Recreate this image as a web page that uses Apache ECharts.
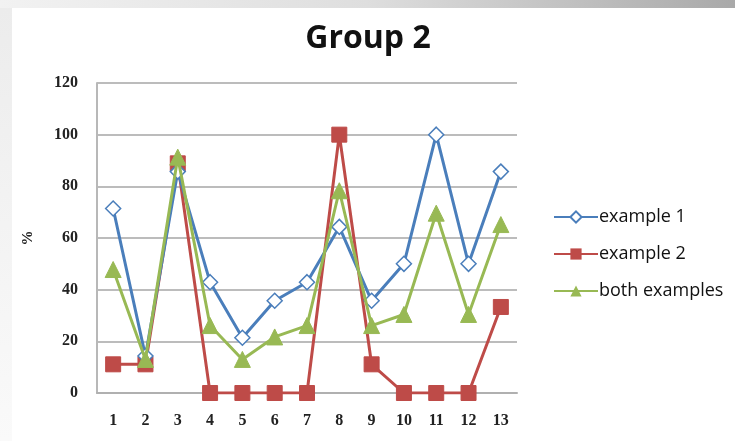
<!DOCTYPE html>
<html>
<head>
<meta charset="utf-8">
<script src="https://cdn.jsdelivr.net/npm/echarts@6/dist/echarts.min.js"></script>
<style>
html,body{margin:0;padding:0;background:#fff;}
#chart{width:735px;height:441px;}
</style>
</head>
<body>
<div id="chart"></div>
<script>
const categories = ['1','2','3','4','5','6','7','8','9','10','11','12','13'];
const example1 = [71.4, 14.3, 85.7, 42.9, 21.4, 35.7, 42.9, 64.3, 35.7, 50, 100, 50, 85.7];
const example2 = [11.1, 11.1, 88.9, 0, 0, 0, 0, 100, 11.1, 0, 0, 0, 33.3];
const bothExamples = [47.8, 13.0, 91.3, 26.1, 13.0, 21.7, 26.1, 78.3, 26.1, 30.4, 69.6, 30.4, 65.2];
const seriesNames = ['example 1', 'example 2', 'both examples'];
const titleText = 'Group 2';
const yAxisName = '%';

const chart = echarts.init(document.getElementById('chart'), null, {renderer: 'canvas'});
const blue = '#4A7EBB', red = '#BE4B48', green = '#98B954';
const axisFont = 'Liberation Serif';

chart.setOption({
  backgroundColor: '#ffffff',
  animation: false,
  graphic: [
    {type: 'rect', z: -10, shape: {x: 0, y: 0, width: 735, height: 8},
     style: {fill: new echarts.graphic.LinearGradient(0, 0, 1, 0, [
       {offset: 0, color: '#f2f2f2'}, {offset: 0.5, color: '#dedede'}, {offset: 1, color: '#a9a9a9'}])}},
    {type: 'rect', z: -10, shape: {x: 0, y: 8, width: 12, height: 433},
     style: {fill: new echarts.graphic.LinearGradient(0, 0, 0, 1, [
       {offset: 0, color: '#ececec'}, {offset: 1, color: '#fafafa'}])}}
  ],
  title: {
    text: titleText,
    left: 363,
    top: 18,
    textAlign: 'center',
    textStyle: {fontFamily: 'Open Sans', fontWeight: 'bold', fontSize: 32, color: '#111'}
  },
  legend: {
    orient: 'vertical',
    left: 548,
    top: 203,
    itemWidth: 44,
    itemHeight: 14,
    itemGap: 19,
    data: seriesNames,
    textStyle: {fontFamily: 'Open Sans', fontSize: 18, color: '#111', padding: [0, 0, 0, -4]}
  },
  grid: {left: 97, right: 218, top: 83, bottom: 48, containLabel: false},
  xAxis: {
    type: 'category',
    data: categories,
    boundaryGap: true,
    axisLine: {show: true, lineStyle: {color: '#b0b0b0', width: 2}},
    axisTick: {show: false},
    axisLabel: {margin: 20, fontFamily: axisFont, fontWeight: 'bold', fontSize: 16, color: '#222'}
  },
  yAxis: {
    type: 'value',
    min: 0,
    max: 120,
    interval: 20,
    name: yAxisName,
    nameLocation: 'middle',
    nameGap: 61,
    nameRotate: 90,
    nameTextStyle: {fontFamily: axisFont, fontWeight: 'bold', fontSize: 15, color: '#222'},
    axisLine: {show: true, lineStyle: {color: '#b8b8b8', width: 2}},
    axisTick: {show: false},
    axisLabel: {margin: 19, fontFamily: axisFont, fontWeight: 'bold', fontSize: 16, color: '#222'},
    splitLine: {show: true, lineStyle: {color: '#bcbcbc', width: 2}}
  },
  series: [
    {
      name: seriesNames[0], type: 'line', data: example1,
      symbol: 'diamond', symbolSize: 15,
      lineStyle: {color: blue, width: 3},
      itemStyle: {color: '#ffffff', borderColor: blue, borderWidth: 1.5},
      z: 3
    },
    {
      name: seriesNames[1], type: 'line', data: example2,
      symbol: 'rect', symbolSize: 15,
      lineStyle: {color: red, width: 3},
      itemStyle: {color: red, borderColor: red},
      z: 2
    },
    {
      name: seriesNames[2], type: 'line', data: bothExamples,
      symbol: 'triangle', symbolSize: 16,
      lineStyle: {color: green, width: 3},
      itemStyle: {color: green, borderColor: green},
      z: 4
    }
  ]
});
</script>
</body>
</html>
